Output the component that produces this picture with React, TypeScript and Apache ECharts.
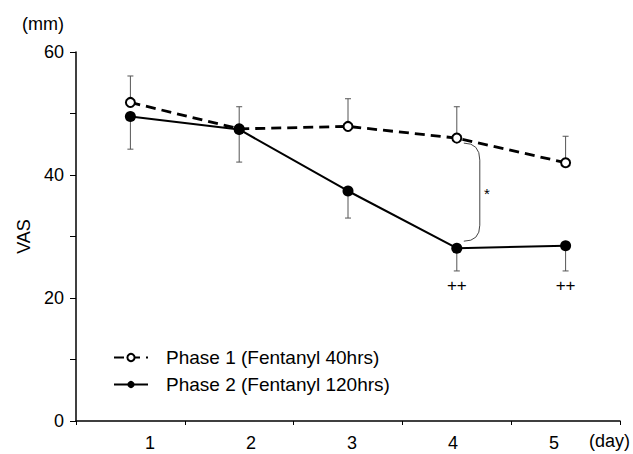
import React, { useEffect, useRef } from "react";
import * as echarts from "echarts";

const days = ["1", "2", "3", "4", "5"];
const dayLabels = [1, 2, 3, 4, 5];
const phase1Mean = [51.8, 47.5, 47.9, 46.0, 42.0];
const phase1Sd = [4.3, 3.6, 4.5, 5.1, 4.3];
const phase2Mean = [49.5, 47.4, 37.4, 28.1, 28.5];
const phase2Sd = [5.3, 5.3, 4.4, 3.7, 4.1];
const sigMarks = ["", "", "", "++", "++"];
const bracketDay = 3;
const bracketLabel = "*";
const phase1Name = "Phase 1 (Fentanyl 40hrs)";
const phase2Name = "Phase 2 (Fentanyl 120hrs)";

const FONT = "Liberation Sans, Arial, sans-serif";

export default function App() {
  const ref = useRef<HTMLDivElement>(null);
  useEffect(() => {
    if (!ref.current) return;
    const chart = echarts.init(ref.current, undefined, { renderer: "svg" });

    const errRender = (params: any, api: any) => {
      const p = api.coord([api.value(0), api.value(1)]);
      const e = api.coord([api.value(0), api.value(2)]);
      return {
        type: "group",
        children: [
          { type: "line", shape: { x1: p[0], y1: p[1], x2: e[0], y2: e[1] }, style: { stroke: "#555", lineWidth: 1 } },
          { type: "line", shape: { x1: e[0] - 3, y1: e[1], x2: e[0] + 3, y2: e[1] }, style: { stroke: "#555", lineWidth: 1 } },
        ],
      };
    };

    const option: any = {
      animation: false,
      grid: { left: 76, right: 13, top: 52, bottom: 33, containLabel: false },
      legend: {
        orient: "vertical",
        left: 108,
        top: 343,
        itemWidth: 34,
        itemHeight: 9,
        itemGap: 8,
        data: [phase1Name, phase2Name],
        textStyle: { fontFamily: FONT, fontSize: 19, color: "#000", padding: [0, 0, 0, 13] },
      },
      xAxis: [
        {
          type: "category",
          data: days,
          boundaryGap: true,
          axisLine: { lineStyle: { color: "#000", width: 1.5 } },
          axisTick: { show: true, length: 4, lineStyle: { color: "#000" } },
          axisLabel: { show: false },
          splitLine: { show: false },
        },
        {
          type: "value",
          position: "bottom",
          min: 0.267,
          max: 5.653,
          axisLine: { show: false },
          axisTick: { show: false },
          splitLine: { show: false },
          axisLabel: {
            customValues: dayLabels,
            fontFamily: FONT,
            fontSize: 18,
            color: "#000",
            margin: 13,
          },
        },
      ],
      yAxis: {
        type: "value",
        min: 0,
        max: 60,
        interval: 10,
        name: "VAS",
        nameLocation: "middle",
        nameRotate: 90,
        nameGap: 33,
        nameTextStyle: { fontFamily: FONT, fontSize: 18, color: "#000" },
        axisLine: { show: true, lineStyle: { color: "#000", width: 1.5 } },
        axisTick: { show: true, length: 6, lineStyle: { color: "#000" } },
        axisLabel: {
          formatter: (v: number) => (v % 20 === 0 ? String(v) : ""),
          fontFamily: FONT,
          fontSize: 18,
          color: "#000",
          margin: 12,
        },
        splitLine: { show: false },
      },
      graphic: [
        { type: "text", left: 22, top: 15, style: { text: "(mm)", font: `18px ${FONT}`, fill: "#000" } },
        { type: "text", right: 3, top: 432, style: { text: "(day)", font: `18px ${FONT}`, fill: "#000" } },
      ],
      series: [
        {
          type: "custom",
          name: "err1",
          z: 1,
          renderItem: errRender,
          itemStyle: { color: "#000" },
          data: phase1Mean.map((m, i) => [i, m, m + phase1Sd[i]]),
          silent: true,
        },
        {
          type: "custom",
          name: "err2",
          z: 1,
          renderItem: errRender,
          itemStyle: { color: "#000" },
          data: phase2Mean.map((m, i) => [i, m, m - phase2Sd[i]]),
          silent: true,
        },
        {
          name: phase1Name,
          type: "line",
          z: 3,
          data: phase1Mean,
          symbol: "circle",
          symbolSize: 9,
          lineStyle: { color: "#000", width: 2.8, type: [10, 6] },
          itemStyle: { color: "#fff", borderColor: "#000", borderWidth: 2 },
        },
        {
          name: phase2Name,
          type: "line",
          z: 4,
          data: phase2Mean,
          symbol: "circle",
          symbolSize: 11,
          lineStyle: { color: "#000", width: 2 },
          itemStyle: { color: "#000", borderColor: "#000", borderWidth: 0 },
        },
        {
          type: "custom",
          name: "marks",
          z: 2,
          silent: true,
          itemStyle: { color: "#000" },
          data: phase2Mean.map((m, i) => [i, m - phase2Sd[i], sigMarks[i]]),
          renderItem: (params: any, api: any) => {
            const i = params.dataIndex;
            const p = api.coord([api.value(0), api.value(1)]);
            return {
              type: "text",
              x: p[0],
              y: p[1] + 15,
              style: { text: sigMarks[i], font: `17px ${FONT}`, fill: "#000", align: "center", verticalAlign: "middle" },
            };
          },
        },
        {
          type: "custom",
          name: "bracket",
          z: 2,
          silent: true,
          itemStyle: { color: "#000" },
          data: [[bracketDay, phase1Mean[bracketDay], phase2Mean[bracketDay]]],
          renderItem: (params: any, api: any) => {
            const a = api.coord([api.value(0), api.value(1)]);
            const b = api.coord([api.value(0), api.value(2)]);
            const x = a[0];
            const y1 = a[1];
            const y2 = b[1];
            const d = `M${x + 7} ${y1 + 5} Q${x + 23} ${y1 + 5} ${x + 23} ${y1 + 22} L${x + 23} ${y2 - 23} Q${x + 23} ${y2 - 7} ${x + 7} ${y2 - 7}`;
            return {
              type: "group",
              children: [
                { type: "path", shape: { pathData: d }, style: { fill: "none", stroke: "#444", lineWidth: 1 } },
                {
                  type: "text",
                  x: x + 30,
                  y: (y1 + y2) / 2,
                  style: { text: bracketLabel, font: `15px ${FONT}`, fill: "#000", align: "center", verticalAlign: "middle" },
                },
              ],
            };
          },
        },
      ],
    };
    chart.setOption(option);
    return () => chart.dispose();
  }, []);
  return <div ref={ref} style={{ width: 633, height: 454, position: "absolute", left: 0, top: 0 }} />;
}
